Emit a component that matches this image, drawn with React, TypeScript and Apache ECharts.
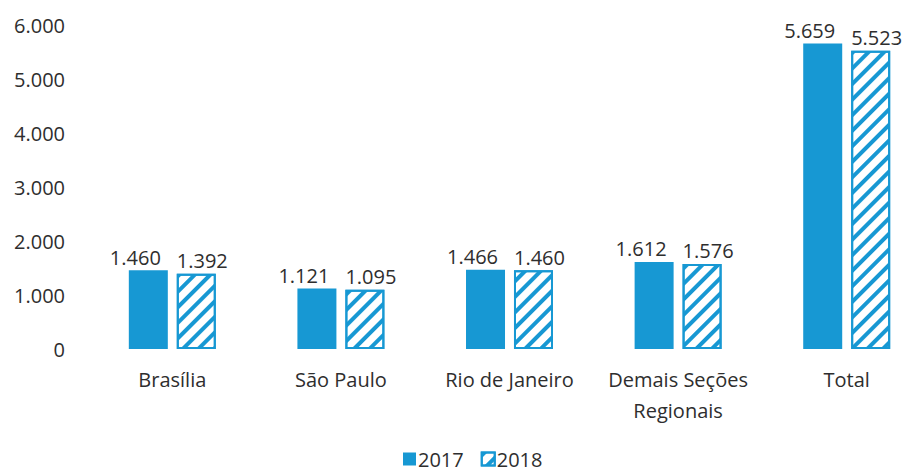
import React, { useEffect, useRef } from "react";
import * as echarts from "echarts";

const categories = ["Brasília", "São Paulo", "Rio de Janeiro", "Demais Seções\nRegionais", "Total"];
const values2017 = [1460, 1121, 1466, 1612, 5659];
const values2018 = [1392, 1095, 1460, 1576, 5523];
const seriesNames = ["2017", "2018"];
const yTicks = { min: 0, max: 6000, interval: 1000 };

const BLUE = "#1798d3";
const TEXT = "#2e2e2e";
const FONT = "Open Sans";

const fmt = (v: number) => {
  const s = Math.round(v).toString();
  return s.replace(/\B(?=(\d{3})+(?!\d))/g, ".");
};

export default function App() {
  const ref = useRef<HTMLDivElement>(null);
  useEffect(() => {
    const chart = echarts.init(ref.current!, null, { renderer: "svg" });
    chart.setOption({
      animation: false,
      textStyle: { fontFamily: FONT, color: TEXT },
      grid: { left: 88, top: 25, width: 843, height: 324 },
      legend: {
        top: 449,
        left: 403,
        padding: 0,
        itemWidth: 13,
        itemHeight: 13,
        itemGap: 17,
        icon: "rect",
        textStyle: { fontFamily: FONT, fontSize: 20, lineHeight: 20, color: TEXT, padding: [0, 0, 0, -3] },
        data: seriesNames,
      },
      xAxis: {
        type: "category",
        data: categories,
        axisLine: { show: false },
        axisTick: { show: false },
        axisLabel: { interval: 0, fontFamily: FONT, fontSize: 20, color: TEXT, margin: 15, lineHeight: 31 },
      },
      yAxis: {
        type: "value",
        min: yTicks.min,
        max: yTicks.max,
        interval: yTicks.interval,
        splitLine: { show: false },
        axisLine: { show: false },
        axisTick: { show: false },
        axisLabel: { fontFamily: FONT, fontSize: 20, color: TEXT, margin: 23, formatter: (v: number) => fmt(v) },
      },
      series: [
        {
          name: seriesNames[0],
          type: "bar",
          data: values2017,
          barWidth: 39,
          barGap: "23%",
          itemStyle: { color: BLUE },
          label: {
            show: true,
            position: "top",
            distance: 3,
            fontFamily: FONT,
            fontSize: 20,
            color: TEXT,
            offset: [-13, 0],
            formatter: (p: any) => fmt(p.value),
          },
        },
        {
          name: seriesNames[1],
          type: "bar",
          data: values2018,
          barWidth: 39,
          itemStyle: {
            color: "#ffffff",
            borderColor: BLUE,
            borderWidth: 2,
            decal: {
              symbol: "rect",
              symbolSize: 1,
              color: BLUE,
              backgroundColor: "#ffffff",
              rotation: -Math.PI / 4,
              dashArrayX: [1, 0],
              dashArrayY: [4, 7],
            },
          },
          label: {
            show: true,
            position: "top",
            distance: 3,
            fontFamily: FONT,
            fontSize: 20,
            color: TEXT,
            offset: [6, 0],
            formatter: (p: any) => fmt(p.value),
          },
        },
      ],
    });
    return () => chart.dispose();
  }, []);
  return (
    <div style={{ position: "absolute", left: 0, top: 0, width: 913, height: 471, overflow: "hidden", background: "#ffffff" }}>
      <div ref={ref} style={{ width: 940, height: 471 }} />
    </div>
  );
}
